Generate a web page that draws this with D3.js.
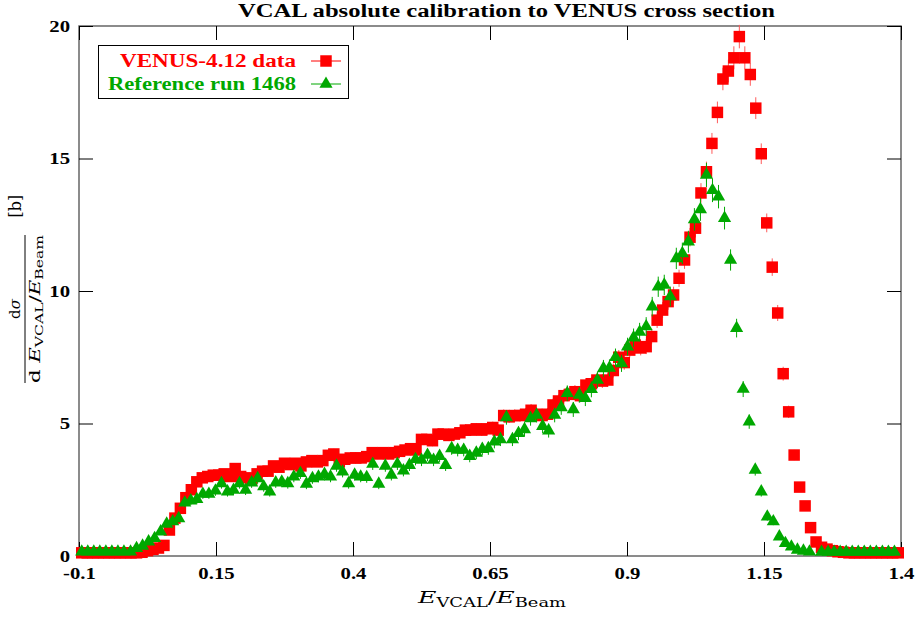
<!DOCTYPE html>
<html>
<head>
<meta charset="utf-8">
<script src="https://cdn.jsdelivr.net/npm/d3@7/dist/d3.min.js"></script>
<style>
    body { margin: 0; background: #fff; }
    svg { display: block; }
</style>
</head>
<body>
<svg id="chart"></svg>
<script>
// VENUS-4.12 data: bin centres and cross section [b]
const venusX = [
    -0.095, -0.085, -0.075, -0.065, -0.055, -0.045, -0.035, -0.025, -0.015, -0.005,
    0.005, 0.015, 0.025, 0.035, 0.045, 0.055, 0.065, 0.075, 0.085, 0.095,
    0.105, 0.115, 0.125, 0.135, 0.145, 0.155, 0.165, 0.175, 0.185, 0.195,
    0.205, 0.215, 0.225, 0.235, 0.245, 0.255, 0.265, 0.275, 0.285, 0.295,
    0.305, 0.315, 0.325, 0.335, 0.345, 0.355, 0.365, 0.375, 0.385, 0.395,
    0.405, 0.415, 0.425, 0.435, 0.445, 0.455, 0.465, 0.475, 0.485, 0.495,
    0.505, 0.515, 0.525, 0.535, 0.545, 0.555, 0.565, 0.575, 0.585, 0.595,
    0.605, 0.615, 0.625, 0.635, 0.645, 0.655, 0.665, 0.675, 0.685, 0.695,
    0.705, 0.715, 0.725, 0.735, 0.745, 0.755, 0.765, 0.775, 0.785, 0.795,
    0.805, 0.815, 0.825, 0.835, 0.845, 0.855, 0.865, 0.875, 0.885, 0.895,
    0.905, 0.915, 0.925, 0.935, 0.945, 0.955, 0.965, 0.975, 0.985, 0.995,
    1.005, 1.015, 1.025, 1.035, 1.045, 1.055, 1.065, 1.075, 1.085, 1.095,
    1.105, 1.115, 1.125, 1.135, 1.145, 1.155, 1.165, 1.175, 1.185, 1.195,
    1.205, 1.215, 1.225, 1.235, 1.245, 1.255, 1.265, 1.275, 1.285, 1.295,
    1.305, 1.315, 1.325, 1.335, 1.345, 1.355, 1.365, 1.375, 1.385, 1.395
];
const venusY = [
    0.12, 0.12, 0.12, 0.12, 0.12, 0.12, 0.12, 0.12, 0.12, 0.12,
    0.12, 0.14, 0.2, 0.25, 0.3, 0.4, 0.98, 1.43, 1.8, 2.2,
    2.5, 2.8, 2.95, 3.0, 3.05, 3.05, 3.1, 3.0, 3.3, 3.0,
    2.95, 2.9, 3.1, 3.2, 3.2, 3.4, 3.35, 3.5, 3.45, 3.5,
    3.4, 3.55, 3.6, 3.55, 3.6, 3.8, 3.85, 3.55, 3.65, 3.7,
    3.7, 3.7, 3.75, 3.9, 3.85, 3.9, 3.85, 3.9, 3.95, 4.0,
    4.05, 4.0, 4.4, 4.4, 4.35, 4.6, 4.6, 4.55, 4.6, 4.65,
    4.75, 4.75, 4.8, 4.75, 4.8, 4.85, 4.75, 5.3, 5.25, 5.3,
    5.3, 5.35, 5.5, 5.35, 5.3, 5.35, 5.7, 5.85, 6.05, 6.1,
    6.2, 6.05, 6.45, 6.5, 6.64, 6.6, 6.64, 7.0, 7.5, 7.3,
    7.77, 7.96, 7.85, 7.9, 8.28, 8.9, 9.28, 9.6, 9.85, 10.48,
    11.17, 12.03, 12.37, 13.7, 14.5, 15.57, 16.74, 18.0, 18.3, 18.8,
    19.6, 18.8, 18.17, 16.9, 15.18, 12.57, 10.9, 9.17, 6.88, 5.44,
    3.81, 2.6, 1.89, 1.07, 0.53, 0.33, 0.26, 0.2, 0.16, 0.14,
    0.12, 0.12, 0.12, 0.12, 0.12, 0.12, 0.12, 0.12, 0.12, 0.12
];

// Reference run 1468: its own binning
const refX = [
    -0.095, -0.084, -0.073, -0.062, -0.051, -0.040, -0.029, -0.018, -0.006, 0.005,
    0.016, 0.027, 0.038, 0.049, 0.060, 0.071, 0.082, 0.093, 0.104, 0.115,
    0.126, 0.137, 0.149, 0.160, 0.171, 0.182, 0.193, 0.204, 0.215, 0.226,
    0.237, 0.248, 0.259, 0.270, 0.281, 0.292, 0.304, 0.315, 0.326, 0.337,
    0.348, 0.359, 0.370, 0.381, 0.392, 0.403, 0.414, 0.425, 0.436, 0.447,
    0.459, 0.470, 0.481, 0.492, 0.503, 0.514, 0.525, 0.536, 0.547, 0.558,
    0.569, 0.580, 0.591, 0.602, 0.613, 0.625, 0.636, 0.647, 0.658, 0.669,
    0.680, 0.691, 0.702, 0.713, 0.724, 0.735, 0.746, 0.757, 0.768, 0.780,
    0.791, 0.802, 0.813, 0.824, 0.835, 0.846, 0.857, 0.868, 0.879, 0.890,
    0.901, 0.912, 0.923, 0.935, 0.946, 0.957, 0.968, 0.979, 0.990, 1.001,
    1.012, 1.023, 1.034, 1.045, 1.056, 1.067, 1.078, 1.089, 1.100, 1.112,
    1.123, 1.134, 1.145, 1.156, 1.167, 1.178, 1.189, 1.200, 1.211, 1.222,
    1.233, 1.244, 1.255, 1.267, 1.278, 1.289, 1.300, 1.311, 1.322, 1.333,
    1.344, 1.355, 1.366, 1.377, 1.388
];
const refY = [
    0.16, 0.16, 0.16, 0.16, 0.16, 0.16, 0.16, 0.16, 0.16, 0.29,
    0.38, 0.54, 0.67, 0.92, 1.21, 1.3, 1.42, 2.01, 2.09, 2.14,
    2.34, 2.34, 2.46, 2.74, 2.43, 2.49, 2.74, 2.49, 2.77, 2.93,
    2.62, 2.43, 2.77, 2.8, 2.74, 2.99, 3.12, 2.72, 2.93, 2.99,
    3.09, 2.99, 3.4, 3.18, 2.74, 3.06, 2.99, 2.97, 3.47, 2.72,
    3.4, 3.06, 3.47, 3.22, 3.43, 3.65, 3.62, 3.81, 3.62, 3.77,
    3.43, 4.06, 4.0, 4.0, 3.77, 3.89, 4.03, 4.06, 4.31, 4.4,
    5.23, 4.4, 4.63, 4.78, 5.19, 5.32, 4.9, 4.73, 5.32, 5.61,
    6.14, 5.53, 6.08, 5.95, 6.29, 6.64, 7.08, 7.1, 7.5, 7.27,
    7.9, 8.24, 8.45, 8.66, 9.41, 10.16, 10.23, 9.79, 11.23, 11.42,
    11.86, 12.7, 13.08, 14.38, 13.8, 13.56, 12.75, 11.17, 8.6, 6.3,
    5.07, 3.25, 2.43, 1.48, 1.3, 0.73, 0.48, 0.35, 0.23, 0.19,
    0.16, null, 0.15, 0.15, 0.15, 0.15, 0.15, 0.15, 0.15, 0.15,
    0.15, 0.15, 0.15, 0.15, 0.15
];

const xTicks = [-0.1, 0.15, 0.4, 0.65, 0.9, 1.15, 1.4];
const xTickLabels = ["-0.1", "0.15", "0.4", "0.65", "0.9", "1.15", "1.4"];
const yTicks = [0, 5, 10, 15, 20];
const yTickLabels = ["0", "5", "10", "15", "20"];

const seriesNames = ["VENUS-4.12 data", "Reference run 1468"];

const width = 919;
const height = 617;
const plot = { left: 79, right: 901, top: 26, bottom: 556 };
const serif = "DejaVu Serif";          // regular / italic labels
const boldSerif = "Liberation Serif";  // bold texts (widened to look like CM bold)

const red = "#ff0000";
const green = "#00a800";

// statistical error bars, roughly sqrt-like
const venusRelErr = 0.1;
const refRelErr = 0.12;

const svg = d3.select("#chart")
    .attr("width", width)
    .attr("height", height)
    .attr("viewBox", [0, 0, width, height])
    .attr("font-family", serif);

svg.append("rect").attr("width", width).attr("height", height).attr("fill", "#fff");

const x = d3.scaleLinear().domain([-0.1, 1.4]).range([plot.left, plot.right]);
const y = d3.scaleLinear().domain([0, 20]).range([plot.bottom, plot.top]);

// widen a text to a given width (or by a factor) keeping its anchor
function stretch(sel, target, factor) {
    sel.each(function () {
        const w = this.getComputedTextLength();
        d3.select(this)
            .attr("textLength", target || w * factor)
            .attr("lengthAdjust", "spacingAndGlyphs");
    });
}

// frame
svg.append("rect")
    .attr("x", plot.left)
    .attr("y", plot.top)
    .attr("width", plot.right - plot.left)
    .attr("height", plot.bottom - plot.top)
    .attr("fill", "none")
    .attr("stroke", "#666")
    .attr("stroke-width", 1.5);

function styleAxis(g) {
    g.select(".domain").remove();
    g.selectAll(".tick line").attr("stroke", "#000").attr("stroke-width", 1);
    g.selectAll(".tick text")
        .attr("fill", "#000")
        .attr("font-family", boldSerif)
        .attr("font-weight", "bold")
        .attr("font-size", 17)
        .call(stretch, null, 1.22);
}

// ticks point inwards on all four sides
svg.append("g")
    .attr("transform", `translate(0,${plot.bottom})`)
    .call(d3.axisBottom(x).tickValues(xTicks)
        .tickFormat((d, i) => xTickLabels[i]).tickSize(-14).tickPadding(11))
    .call(styleAxis);

svg.append("g")
    .attr("transform", `translate(0,${plot.top})`)
    .call(d3.axisTop(x).tickValues(xTicks).tickFormat("").tickSize(-14))
    .call(styleAxis);

svg.append("g")
    .attr("transform", `translate(${plot.left},0)`)
    .call(d3.axisLeft(y).tickValues(yTicks)
        .tickFormat((d, i) => yTickLabels[i]).tickSize(-14).tickPadding(9))
    .call(styleAxis);

svg.append("g")
    .attr("transform", `translate(${plot.right},0)`)
    .call(d3.axisRight(y).tickValues(yTicks).tickFormat("").tickSize(-14))
    .call(styleAxis);

// data series
function drawSeries(xs, ys, relErr, color, barColor, symbol, size) {
    const pts = xs.map((d, i) => ({ x: d, y: ys[i] })).filter((d) => d.y !== null);
    const g = svg.append("g");

    g.selectAll("line")
        .data(pts)
        .enter()
        .append("line")
        .attr("x1", (d) => x(d.x))
        .attr("x2", (d) => x(d.x))
        .attr("y1", (d) => y(d.y - relErr * Math.sqrt(d.y)))
        .attr("y2", (d) => y(d.y + relErr * Math.sqrt(d.y)))
        .attr("stroke", barColor)
        .attr("stroke-width", 1);

    g.selectAll("path")
        .data(pts)
        .enter()
        .append("path")
        .attr("transform", (d) => `translate(${x(d.x)},${y(d.y)})`)
        .attr("d", d3.symbol(symbol, size))
        .attr("fill", color);
}

drawSeries(venusX, venusY, venusRelErr, red, "#ff5a5a", d3.symbolSquare, 132);
drawSeries(refX, refY, refRelErr, green, green, d3.symbolTriangle, 75);

// legend
const legend = svg.append("g");
legend.append("rect")
    .attr("x", 98.5).attr("y", 45.5)
    .attr("width", 250).attr("height", 53)
    .attr("fill", "#fff")
    .attr("stroke", "#000");

const legendItems = [
    { name: seriesNames[0], color: red, symbol: d3.symbolSquare, size: 132, len: 176 },
    { name: seriesNames[1], color: green, symbol: d3.symbolTriangle, size: 75, len: 188 }
];

legendItems.forEach((item, i) => {
    const cy = 61 + i * 23;
    legend.append("text")
        .attr("x", 296).attr("y", cy + 6)
        .attr("text-anchor", "end")
        .attr("font-family", boldSerif)
        .attr("font-weight", "bold")
        .attr("font-size", 18)
        .attr("fill", item.color)
        .text(item.name)
        .call(stretch, item.len);
    legend.append("line")
        .attr("x1", 311).attr("x2", 341)
        .attr("y1", cy).attr("y2", cy)
        .attr("stroke", item.color);
    legend.append("path")
        .attr("transform", `translate(326,${cy})`)
        .attr("d", d3.symbol(item.symbol, item.size))
        .attr("fill", item.color);
});

// title
svg.append("text")
    .attr("x", 238).attr("y", 17)
    .attr("font-family", boldSerif)
    .attr("font-weight", "bold")
    .attr("font-size", 18)
    .text("VCAL absolute calibration to VENUS cross section")
    .call(stretch, 537);

// x label: E_VCAL / E_Beam
const xl = svg.append("text")
    .attr("x", 492).attr("y", 603)
    .attr("text-anchor", "middle")
    .attr("font-family", serif)
    .attr("font-size", 17)
    .attr("textLength", 148)
    .attr("lengthAdjust", "spacingAndGlyphs");
xl.append("tspan").attr("font-style", "italic").text("E");
xl.append("tspan").attr("font-size", 12).attr("dy", 4).text("VCAL");
xl.append("tspan").attr("dy", -4).text("/");
xl.append("tspan").attr("font-style", "italic").text("E");
xl.append("tspan").attr("font-size", 12).attr("dy", 4).text("Beam");

// y label: dσ / (d E_VCAL / E_Beam) [b], rotated
const yl = svg.append("g").attr("transform", "translate(0,309) rotate(-90)");
const num = yl.append("text")
    .attr("x", 0).attr("y", 20)
    .attr("text-anchor", "middle")
    .attr("font-family", serif)
    .attr("font-size", 15);
num.append("tspan").text("d");
num.append("tspan").attr("font-style", "italic").text("σ");

yl.append("line")
    .attr("x1", -74).attr("x2", 74)
    .attr("y1", 25).attr("y2", 25)
    .attr("stroke", "#000");

const den = yl.append("text")
    .attr("x", 0).attr("y", 40)
    .attr("text-anchor", "middle")
    .attr("font-family", serif)
    .attr("font-size", 15)
    .attr("textLength", 148)
    .attr("lengthAdjust", "spacingAndGlyphs");
den.append("tspan").text("d ");
den.append("tspan").attr("font-style", "italic").text("E");
den.append("tspan").attr("font-size", 11).attr("dy", 3).text("VCAL");
den.append("tspan").attr("dy", -3).text("/");
den.append("tspan").attr("font-style", "italic").text("E");
den.append("tspan").attr("font-size", 11).attr("dy", 3).text("Beam");

yl.append("text")
    .attr("x", 103).attr("y", 21)
    .attr("text-anchor", "middle")
    .attr("font-family", serif)
    .attr("font-size", 16)
    .text("[b]");
</script>
</body>
</html>
